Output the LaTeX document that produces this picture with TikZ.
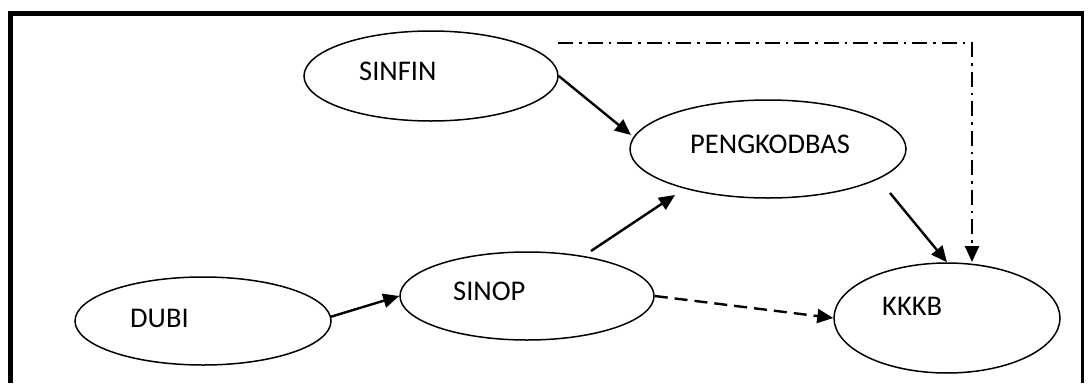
\documentclass[tikz,border=0pt]{standalone}
\usepackage{fontspec}
\setmainfont{Carlito}
\usetikzlibrary{shapes.geometric,arrows.meta,calc}
\begin{document}
\begin{tikzpicture}[x=1pt,y=-1pt,
  oval/.style={draw,ellipse,line width=1.5pt,inner sep=0pt},
  lbl/.style={anchor=base west,inner sep=0pt,font=\fontsize{28.5}{34}\selectfont},
  conn/.style={line width=2.4pt,-{Triangle[length=16pt,width=14pt]}},
  dashconn/.style={conn,dash pattern=on 13pt off 7pt},
  dotconn/.style={conn,line width=2.4pt,dash pattern=on 15pt off 6pt on 2.5pt off 6pt}]
\useasboundingbox (0,0) rectangle (1092,383);
% frame
\draw[line width=5pt] (10.3,383) -- (10.3,13.2) -- (1083,13.2);
\draw[line width=2.5pt] (1082.5,11) -- (1082.5,383);
% ellipses
\node[oval,minimum width=254pt,minimum height=90pt] (sinfin) at (431,76) {};
\node[oval,minimum width=276pt,minimum height=98pt] (peng) at (768,149) {};
\node[oval,minimum width=256pt,minimum height=88pt] (dubi) at (203,321) {};
\node[oval,minimum width=254pt,minimum height=88pt] (sinop) at (527,296) {};
\node[oval,minimum width=226pt,minimum height=110pt] (kkkb) at (947,318) {};
% labels
\node[lbl] (sinfint) at (359,80) {SINFIN};
\node[lbl] (pengt) at (690,153) {PENGKODBAS};
\node[lbl] (dubit) at (130,327) {DUBI};
\node[lbl] (sinopt) at (453,300) {SINOP};
\node[lbl] (kkkbt) at (882,315) {KKKB};
% connectors
\draw[conn] (sinfin.east) -- ($(peng.center)+(-137,-14)$);
\draw[conn] ($(sinop.center)+(64,-45)$) -- ($(peng.center)+(-93,46)$);
\draw[conn] ($(peng.center)+(122,44)$) -- (kkkb.north);
\draw[conn] ($(dubi.center)+(127,-4)$) -- (sinop.west);
\draw[dashconn] (sinop.east) -- (kkkb.west);
\coordinate (ddstart) at ($(sinfin.center)+(127,-33)$);
\coordinate (ddend) at ($(kkkb.center)+(25,-56)$);
\draw[dotconn] (ddstart) -| (ddend);
\end{tikzpicture}
\end{document}
